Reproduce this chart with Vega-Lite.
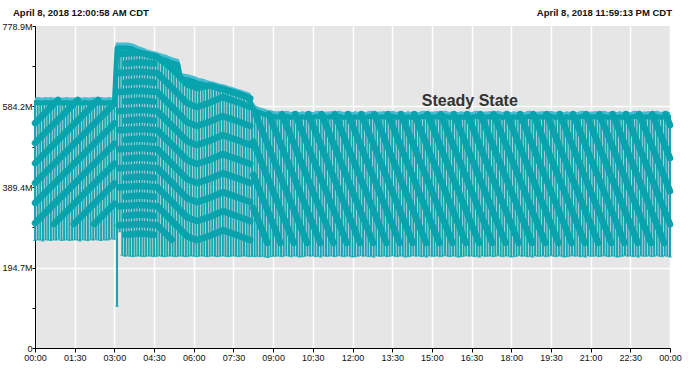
{
"$schema": "https://vega.github.io/schema/vega-lite/v6.json",
"width": 635, "height": 322,
"autosize": {"type": "none"},
"padding": {"left": 35, "top": 26, "right": 19, "bottom": 23},
"background": "#ffffff",
"config": {"view": {"fill": "#e6e6e6", "stroke": null}, "font": "Liberation Sans"},
"datasets": {
"r": [
{"m":0,"lo":260,"hi":600},{"m":6,"lo":262,"hi":601},{"m":12,"lo":261,"hi":600},{"m":18,"lo":259,"hi":600},{"m":24,"lo":262,"hi":601},{"m":30,"lo":261,"hi":600},{"m":36,"lo":260,"hi":601},{"m":42,"lo":262,"hi":600},{"m":48,"lo":261,"hi":600},{"m":54,"lo":263,"hi":601},{"m":60,"lo":260,"hi":600},{"m":66,"lo":261,"hi":600},{"m":72,"lo":262,"hi":601},{"m":78,"lo":260,"hi":600},{"m":84,"lo":261,"hi":600},{"m":90,"lo":262,"hi":600},{"m":96,"lo":261,"hi":601},{"m":102,"lo":259,"hi":600},{"m":108,"lo":262,"hi":600},{"m":114,"lo":261,"hi":601},{"m":120,"lo":260,"hi":600},{"m":126,"lo":262,"hi":600},{"m":132,"lo":261,"hi":601},{"m":138,"lo":263,"hi":600},{"m":144,"lo":261,"hi":600},{"m":150,"lo":260,"hi":601},{"m":156,"lo":262,"hi":600},{"m":162,"lo":261,"hi":600},{"m":168,"lo":262,"hi":601},{"m":174,"lo":264,"hi":600},{"m":180,"lo":263,"hi":600},
{"m":186,"lo":101,"hi":733},{"m":192,"lo":281,"hi":733},{"m":198,"lo":224,"hi":733},{"m":204,"lo":222,"hi":733},{"m":210,"lo":223,"hi":733},{"m":216,"lo":222,"hi":732},{"m":222,"lo":221,"hi":730},{"m":228,"lo":222,"hi":727},{"m":234,"lo":223,"hi":724},{"m":240,"lo":222,"hi":722},{"m":246,"lo":221,"hi":720},{"m":252,"lo":222,"hi":717},{"m":258,"lo":223,"hi":715},{"m":264,"lo":222,"hi":713},{"m":270,"lo":221,"hi":712},{"m":276,"lo":222,"hi":710},{"m":282,"lo":223,"hi":708},{"m":288,"lo":222,"hi":706},{"m":294,"lo":221,"hi":704},{"m":300,"lo":222,"hi":702},{"m":306,"lo":223,"hi":699},{"m":312,"lo":222,"hi":697},{"m":318,"lo":221,"hi":695},{"m":324,"lo":222,"hi":693},{"m":330,"lo":223,"hi":659},{"m":336,"lo":222,"hi":658},{"m":342,"lo":221,"hi":657},{"m":348,"lo":222,"hi":656},{"m":354,"lo":223,"hi":654},{"m":360,"lo":222,"hi":652},{"m":366,"lo":221,"hi":649},{"m":372,"lo":222,"hi":647},{"m":378,"lo":223,"hi":646},{"m":384,"lo":222,"hi":644},{"m":390,"lo":221,"hi":642},{"m":396,"lo":222,"hi":640},{"m":402,"lo":223,"hi":639},{"m":408,"lo":222,"hi":637},{"m":414,"lo":221,"hi":635},{"m":420,"lo":222,"hi":633},{"m":426,"lo":223,"hi":632},{"m":432,"lo":222,"hi":630},{"m":438,"lo":221,"hi":628},{"m":444,"lo":222,"hi":626},{"m":450,"lo":223,"hi":624},{"m":456,"lo":222,"hi":622},{"m":462,"lo":221,"hi":620},{"m":468,"lo":222,"hi":618},{"m":474,"lo":223,"hi":616},{"m":480,"lo":222,"hi":614},{"m":486,"lo":221,"hi":611},{"m":492,"lo":222,"hi":590},{"m":498,"lo":221,"hi":582},{"m":504,"lo":222,"hi":578},{"m":510,"lo":221,"hi":576},{"m":516,"lo":222,"hi":574},{"m":522,"lo":220,"hi":572},{"m":528,"lo":219,"hi":570},{"m":534,"lo":221,"hi":569},{"m":540,"lo":222,"hi":568},
{"m":546,"lo":222,"hi":566},{"m":552,"lo":223,"hi":567},{"m":558,"lo":221,"hi":565},{"m":564,"lo":222,"hi":566},{"m":570,"lo":224,"hi":568},{"m":576,"lo":222,"hi":566},{"m":582,"lo":221,"hi":565},{"m":588,"lo":223,"hi":567},{"m":594,"lo":222,"hi":566},{"m":600,"lo":220,"hi":564},
{"m":606,"lo":221,"hi":567},{"m":612,"lo":222,"hi":565},{"m":618,"lo":224,"hi":566},{"m":624,"lo":222,"hi":566},{"m":630,"lo":223,"hi":564},{"m":636,"lo":221,"hi":567},{"m":642,"lo":222,"hi":568},{"m":648,"lo":220,"hi":566},{"m":654,"lo":223,"hi":565},{"m":660,"lo":222,"hi":566},
{"m":666,"lo":222,"hi":566},{"m":672,"lo":223,"hi":567},{"m":678,"lo":221,"hi":565},{"m":684,"lo":222,"hi":566},{"m":690,"lo":224,"hi":568},{"m":696,"lo":222,"hi":566},{"m":702,"lo":221,"hi":565},{"m":708,"lo":223,"hi":567},{"m":714,"lo":222,"hi":566},{"m":720,"lo":220,"hi":564},
{"m":726,"lo":221,"hi":567},{"m":732,"lo":222,"hi":565},{"m":738,"lo":224,"hi":566},{"m":744,"lo":222,"hi":566},{"m":750,"lo":223,"hi":564},{"m":756,"lo":221,"hi":567},{"m":762,"lo":222,"hi":568},{"m":768,"lo":220,"hi":566},{"m":774,"lo":223,"hi":565},{"m":780,"lo":222,"hi":566},
{"m":786,"lo":222,"hi":566},{"m":792,"lo":223,"hi":567},{"m":798,"lo":221,"hi":565},{"m":804,"lo":222,"hi":566},{"m":810,"lo":224,"hi":568},{"m":816,"lo":222,"hi":566},{"m":822,"lo":221,"hi":565},{"m":828,"lo":223,"hi":567},{"m":834,"lo":222,"hi":566},{"m":840,"lo":220,"hi":564},
{"m":846,"lo":221,"hi":567},{"m":852,"lo":222,"hi":565},{"m":858,"lo":224,"hi":566},{"m":864,"lo":222,"hi":566},{"m":870,"lo":223,"hi":564},{"m":876,"lo":221,"hi":567},{"m":882,"lo":222,"hi":568},{"m":888,"lo":220,"hi":566},{"m":894,"lo":223,"hi":565},{"m":900,"lo":222,"hi":566},
{"m":906,"lo":222,"hi":566},{"m":912,"lo":223,"hi":567},{"m":918,"lo":221,"hi":565},{"m":924,"lo":222,"hi":566},{"m":930,"lo":224,"hi":568},{"m":936,"lo":222,"hi":566},{"m":942,"lo":221,"hi":565},{"m":948,"lo":223,"hi":567},{"m":954,"lo":222,"hi":566},{"m":960,"lo":220,"hi":564},
{"m":966,"lo":221,"hi":567},{"m":972,"lo":222,"hi":565},{"m":978,"lo":224,"hi":566},{"m":984,"lo":222,"hi":566},{"m":990,"lo":223,"hi":564},{"m":996,"lo":221,"hi":567},{"m":1002,"lo":222,"hi":568},{"m":1008,"lo":220,"hi":566},{"m":1014,"lo":223,"hi":565},{"m":1020,"lo":222,"hi":566},
{"m":1026,"lo":222,"hi":566},{"m":1032,"lo":223,"hi":567},{"m":1038,"lo":221,"hi":565},{"m":1044,"lo":222,"hi":566},{"m":1050,"lo":224,"hi":568},{"m":1056,"lo":222,"hi":566},{"m":1062,"lo":221,"hi":565},{"m":1068,"lo":223,"hi":567},{"m":1074,"lo":222,"hi":566},{"m":1080,"lo":220,"hi":564},
{"m":1086,"lo":221,"hi":567},{"m":1092,"lo":222,"hi":565},{"m":1098,"lo":224,"hi":566},{"m":1104,"lo":222,"hi":566},{"m":1110,"lo":223,"hi":564},{"m":1116,"lo":221,"hi":567},{"m":1122,"lo":222,"hi":568},{"m":1128,"lo":220,"hi":566},{"m":1134,"lo":223,"hi":565},{"m":1140,"lo":222,"hi":566},
{"m":1146,"lo":222,"hi":566},{"m":1152,"lo":223,"hi":567},{"m":1158,"lo":221,"hi":565},{"m":1164,"lo":222,"hi":566},{"m":1170,"lo":224,"hi":568},{"m":1176,"lo":222,"hi":566},{"m":1182,"lo":221,"hi":565},{"m":1188,"lo":223,"hi":567},{"m":1194,"lo":222,"hi":566},{"m":1200,"lo":220,"hi":564},
{"m":1206,"lo":221,"hi":567},{"m":1212,"lo":222,"hi":565},{"m":1218,"lo":224,"hi":566},{"m":1224,"lo":222,"hi":566},{"m":1230,"lo":223,"hi":564},{"m":1236,"lo":221,"hi":567},{"m":1242,"lo":222,"hi":568},{"m":1248,"lo":220,"hi":566},{"m":1254,"lo":223,"hi":565},{"m":1260,"lo":222,"hi":566},
{"m":1266,"lo":222,"hi":566},{"m":1272,"lo":223,"hi":567},{"m":1278,"lo":221,"hi":565},{"m":1284,"lo":222,"hi":566},{"m":1290,"lo":224,"hi":568},{"m":1296,"lo":222,"hi":566},{"m":1302,"lo":221,"hi":565},{"m":1308,"lo":223,"hi":567},{"m":1314,"lo":222,"hi":566},{"m":1320,"lo":220,"hi":564},
{"m":1326,"lo":221,"hi":567},{"m":1332,"lo":222,"hi":565},{"m":1338,"lo":224,"hi":566},{"m":1344,"lo":222,"hi":566},{"m":1350,"lo":223,"hi":564},{"m":1356,"lo":221,"hi":567},{"m":1362,"lo":222,"hi":568},{"m":1368,"lo":220,"hi":566},{"m":1374,"lo":223,"hi":565},{"m":1380,"lo":222,"hi":566},
{"m":1386,"lo":222,"hi":566},{"m":1392,"lo":223,"hi":567},{"m":1398,"lo":221,"hi":565},{"m":1404,"lo":222,"hi":566},{"m":1410,"lo":224,"hi":568},{"m":1416,"lo":222,"hi":566},{"m":1422,"lo":221,"hi":565},{"m":1428,"lo":223,"hi":567},{"m":1434,"lo":222,"hi":566},{"m":1440,"lo":220,"hi":564}
],
"s": [
{"k":"a1","m":0,"v":544},{"k":"a1","m":52,"v":600},
{"k":"a2","m":0,"v":496},{"k":"a2","m":97,"v":600},
{"k":"a3","m":0,"v":447},{"k":"a3","m":143,"v":600},
{"k":"a4","m":0,"v":399},{"k":"a4","m":180,"v":591},
{"k":"a5","m":0,"v":351},{"k":"a5","m":180,"v":543},
{"k":"a6","m":0,"v":302},{"k":"a6","m":180,"v":494},
{"k":"a7","m":43,"v":300},{"k":"a7","m":180,"v":446},
{"k":"a8","m":88,"v":300},{"k":"a8","m":180,"v":398},
{"k":"a9","m":134,"v":300},{"k":"a9","m":180,"v":349},
{"k":"b1","m":190,"v":711},{"k":"b1","m":240,"v":714},{"k":"b1","m":277,"v":704},{"k":"b1","m":310,"v":676},{"k":"b1","m":345,"v":638},{"k":"b1","m":367,"v":629},{"k":"b1","m":395,"v":635},{"k":"b1","m":426,"v":626},{"k":"b1","m":458,"v":616},{"k":"b1","m":488,"v":604},
{"k":"b2","m":190,"v":665},{"k":"b2","m":240,"v":668},{"k":"b2","m":277,"v":665},{"k":"b2","m":310,"v":630},{"k":"b2","m":345,"v":592},{"k":"b2","m":367,"v":583},{"k":"b2","m":395,"v":593},{"k":"b2","m":426,"v":607},{"k":"b2","m":458,"v":595},{"k":"b2","m":488,"v":583},
{"k":"b3","m":190,"v":619},{"k":"b3","m":240,"v":622},{"k":"b3","m":277,"v":619},{"k":"b3","m":310,"v":584},{"k":"b3","m":345,"v":546},{"k":"b3","m":367,"v":537},{"k":"b3","m":395,"v":547},{"k":"b3","m":426,"v":561},{"k":"b3","m":458,"v":549},{"k":"b3","m":488,"v":537},
{"k":"b4","m":190,"v":573},{"k":"b4","m":240,"v":576},{"k":"b4","m":277,"v":573},{"k":"b4","m":310,"v":538},{"k":"b4","m":345,"v":500},{"k":"b4","m":367,"v":491},{"k":"b4","m":395,"v":501},{"k":"b4","m":426,"v":515},{"k":"b4","m":458,"v":503},{"k":"b4","m":488,"v":491},
{"k":"b5","m":190,"v":527},{"k":"b5","m":240,"v":530},{"k":"b5","m":277,"v":527},{"k":"b5","m":310,"v":492},{"k":"b5","m":345,"v":454},{"k":"b5","m":367,"v":445},{"k":"b5","m":395,"v":455},{"k":"b5","m":426,"v":469},{"k":"b5","m":458,"v":457},{"k":"b5","m":488,"v":445},
{"k":"b6","m":190,"v":481},{"k":"b6","m":240,"v":484},{"k":"b6","m":277,"v":481},{"k":"b6","m":310,"v":446},{"k":"b6","m":345,"v":408},{"k":"b6","m":367,"v":399},{"k":"b6","m":395,"v":409},{"k":"b6","m":426,"v":423},{"k":"b6","m":458,"v":411},{"k":"b6","m":488,"v":399},
{"k":"b7","m":190,"v":435},{"k":"b7","m":240,"v":438},{"k":"b7","m":277,"v":435},{"k":"b7","m":310,"v":400},{"k":"b7","m":345,"v":362},{"k":"b7","m":367,"v":353},{"k":"b7","m":395,"v":363},{"k":"b7","m":426,"v":377},{"k":"b7","m":458,"v":365},{"k":"b7","m":488,"v":353},
{"k":"b8","m":190,"v":389},{"k":"b8","m":240,"v":392},{"k":"b8","m":277,"v":389},{"k":"b8","m":310,"v":354},{"k":"b8","m":345,"v":316},{"k":"b8","m":367,"v":307},{"k":"b8","m":395,"v":317},{"k":"b8","m":426,"v":331},{"k":"b8","m":458,"v":319},{"k":"b8","m":488,"v":307},
{"k":"b9","m":190,"v":343},{"k":"b9","m":240,"v":346},{"k":"b9","m":277,"v":343},{"k":"b9","m":310,"v":308},{"k":"b9","m":345,"v":270},{"k":"b9","m":367,"v":261},{"k":"b9","m":395,"v":271},{"k":"b9","m":426,"v":285},{"k":"b9","m":458,"v":273},{"k":"b9","m":488,"v":261},
{"k":"b10","m":190,"v":297},{"k":"b10","m":240,"v":300},{"k":"b10","m":277,"v":297},{"k":"b10","m":310,"v":262},
{"k":"d1","m":205,"v":688},{"k":"d1","m":240,"v":691},{"k":"d1","m":270,"v":688},
{"k":"d2","m":205,"v":642},{"k":"d2","m":240,"v":645},{"k":"d2","m":270,"v":642},
{"k":"d3","m":205,"v":596},{"k":"d3","m":240,"v":599},{"k":"d3","m":270,"v":596},
{"k":"d4","m":205,"v":550},{"k":"d4","m":240,"v":553},{"k":"d4","m":270,"v":550},
{"k":"d5","m":205,"v":504},{"k":"d5","m":240,"v":507},{"k":"d5","m":270,"v":504},
{"k":"d6","m":205,"v":458},{"k":"d6","m":240,"v":461},{"k":"d6","m":270,"v":458},
{"k":"d7","m":205,"v":412},{"k":"d7","m":240,"v":415},{"k":"d7","m":270,"v":412},
{"k":"d8","m":205,"v":366},{"k":"d8","m":240,"v":369},{"k":"d8","m":270,"v":366},
{"k":"d9","m":205,"v":320},{"k":"d9","m":240,"v":323},{"k":"d9","m":270,"v":320},
{"k":"d10","m":205,"v":274},{"k":"d10","m":240,"v":277},{"k":"d10","m":270,"v":274},
{"k":"x1","m":495,"v":499},{"k":"x1","m":587,"v":254},
{"k":"x2","m":495,"v":419},{"k":"x2","m":557,"v":254},
{"k":"x3","m":495,"v":339},{"k":"x3","m":527,"v":254},
{"k":"c500","m":500,"v":566},{"k":"c500","m":617,"v":254},
{"k":"c530","m":530,"v":566},{"k":"c530","m":647,"v":254},
{"k":"c560","m":560,"v":566},{"k":"c560","m":677,"v":254},
{"k":"c590","m":590,"v":566},{"k":"c590","m":707,"v":254},
{"k":"c620","m":620,"v":566},{"k":"c620","m":737,"v":254},
{"k":"c650","m":650,"v":566},{"k":"c650","m":767,"v":254},
{"k":"c680","m":680,"v":566},{"k":"c680","m":797,"v":254},
{"k":"c710","m":710,"v":566},{"k":"c710","m":827,"v":254},
{"k":"c740","m":740,"v":566},{"k":"c740","m":857,"v":254},
{"k":"c770","m":770,"v":566},{"k":"c770","m":887,"v":254},
{"k":"c800","m":800,"v":566},{"k":"c800","m":917,"v":254},
{"k":"c830","m":830,"v":566},{"k":"c830","m":947,"v":254},
{"k":"c860","m":860,"v":566},{"k":"c860","m":977,"v":254},
{"k":"c890","m":890,"v":566},{"k":"c890","m":1007,"v":254},
{"k":"c920","m":920,"v":566},{"k":"c920","m":1037,"v":254},
{"k":"c950","m":950,"v":566},{"k":"c950","m":1067,"v":254},
{"k":"c980","m":980,"v":566},{"k":"c980","m":1097,"v":254},
{"k":"c1010","m":1010,"v":566},{"k":"c1010","m":1127,"v":254},
{"k":"c1040","m":1040,"v":566},{"k":"c1040","m":1157,"v":254},
{"k":"c1070","m":1070,"v":566},{"k":"c1070","m":1187,"v":254},
{"k":"c1100","m":1100,"v":566},{"k":"c1100","m":1217,"v":254},
{"k":"c1130","m":1130,"v":566},{"k":"c1130","m":1247,"v":254},
{"k":"c1160","m":1160,"v":566},{"k":"c1160","m":1277,"v":254},
{"k":"c1190","m":1190,"v":566},{"k":"c1190","m":1307,"v":254},
{"k":"c1220","m":1220,"v":566},{"k":"c1220","m":1337,"v":254},
{"k":"c1250","m":1250,"v":566},{"k":"c1250","m":1367,"v":254},
{"k":"c1280","m":1280,"v":566},{"k":"c1280","m":1397,"v":254},
{"k":"c1310","m":1310,"v":566},{"k":"c1310","m":1427,"v":254},
{"k":"c1340","m":1340,"v":566},{"k":"c1340","m":1440,"v":299},
{"k":"c1370","m":1370,"v":566},{"k":"c1370","m":1440,"v":379},
{"k":"c1400","m":1400,"v":566},{"k":"c1400","m":1440,"v":459},
{"k":"c1430","m":1430,"v":566},{"k":"c1430","m":1440,"v":539}
]
},
"layer": [
{"data": {"name": "r"},
 "mark": {"type": "rule", "color": "#17a5af", "strokeWidth": 2},
 "encoding": {
  "x": {"field": "m", "type": "quantitative", "title": null,
        "scale": {"domain": [0, 1440], "nice": false, "zero": false},
        "axis": {"values": [0,90,180,270,360,450,540,630,720,810,900,990,1080,1170,1260,1350,1440],
                 "tickCount": 40,
                 "labelExpr": "timeFormat(datetime(2018,3,8,0,datum.value),'%H:%M')",
                 "labelOverlap": false,
                 "domainColor": "#000", "tickColor": "#000", "tickSize": 4, "labelFontSize": 9,
                 "labelColor": "#111", "labelPadding": 1, "labelFlush": false,
                 "gridColor": "#ffffff", "gridWidth": 1.5}},
  "y": {"field": "lo", "type": "quantitative", "title": null,
        "scale": {"domain": [0, 778.9], "nice": false, "zero": true},
        "axis": {"values": [0,97.4,194.7,292.1,389.4,486.8,584.2,681.6,778.9],
                 "tickCount": 40,
                 "labelExpr": "datum.value == 0 ? '0' : (indexof([194.7,389.4,584.2,778.9], datum.value) >= 0 ? format(datum.value, '.1f') + 'M' : '')",
                 "labelOverlap": false,
                 "domainColor": "#000", "tickColor": "#000", "tickSize": 3, "labelFontSize": 9,
                 "labelColor": "#111", "labelPadding": 0, "labelFlush": false,
                 "gridColor": "#ffffff", "gridWidth": 1.5,
                 "gridOpacity": {"condition": {"test": "indexof([194.7,389.4,584.2], datum.value) >= 0", "value": 1}, "value": 0}}},
  "y2": {"field": "hi"}
 }},
{"data": {"name": "r"},
 "mark": {"type": "tick", "orient": "horizontal", "color": "#17a5af", "size": 4, "thickness": 1},
 "encoding": {"x": {"field": "m", "type": "quantitative", "title": null}, "y": {"field": "lo", "type": "quantitative", "title": null}}},
{"data": {"name": "r"},
 "mark": {"type": "line", "color": "#45bdd3", "strokeWidth": 3, "yOffset": -1, "strokeJoin": "round"},
 "encoding": {"x": {"field": "m", "type": "quantitative", "title": null}, "y": {"field": "hi", "type": "quantitative", "title": null}}},
{"data": {"name": "s"},
 "mark": {"type": "line", "color": "#08a3ad", "strokeWidth": 6.5, "strokeCap": "round", "strokeJoin": "round"},
 "encoding": {"x": {"field": "m", "type": "quantitative", "title": null}, "y": {"field": "v", "type": "quantitative", "title": null}, "detail": {"field": "k"}}},
{"data": {"name": "r"},
 "mark": {"type": "line", "color": "#08a3ad", "strokeWidth": 5, "yOffset": 3, "strokeJoin": "round"},
 "encoding": {"x": {"field": "m", "type": "quantitative", "title": null}, "y": {"field": "hi", "type": "quantitative", "title": null}}},
{"data": {"values": [{}]},
 "mark": {"type": "text", "text": "April 8, 2018 12:00:58 AM CDT", "align": "left", "baseline": "alphabetic", "dx": -22, "dy": -10, "fontSize": 9.5, "fontWeight": "bold", "color": "#111"},
 "encoding": {"x": {"datum": 0, "type": "quantitative"}, "y": {"datum": 778.9, "type": "quantitative"}}},
{"data": {"values": [{}]},
 "mark": {"type": "text", "text": "April 8, 2018 11:59:13 PM CDT", "align": "right", "baseline": "alphabetic", "dx": 2, "dy": -10, "fontSize": 9.5, "fontWeight": "bold", "color": "#111"},
 "encoding": {"x": {"datum": 1440, "type": "quantitative"}, "y": {"datum": 778.9, "type": "quantitative"}}},
{"data": {"values": [{}]},
 "mark": {"type": "text", "text": "Steady State", "align": "center", "baseline": "alphabetic", "fontSize": 16, "fontWeight": "bold", "color": "#333333"},
 "encoding": {"x": {"datum": 986, "type": "quantitative"}, "y": {"datum": 585, "type": "quantitative"}}}
]
}
